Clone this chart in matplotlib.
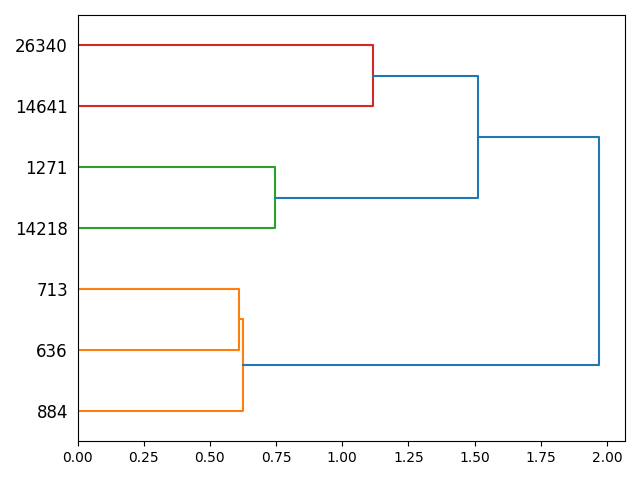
import matplotlib
matplotlib.use("Agg")
import matplotlib.pyplot as plt

# leaves, bottom to top
leaves = ["884", "636", "713", "14218", "1271", "14641", "26340"]

# links: (left node, right node, merge height, colour)
# nodes 0..6 are leaves, 7.. are the merged clusters in order
links = [
    (1, 2, 0.609, "C1"),   # 7: 636 + 713
    (0, 7, 0.624, "C1"),   # 8: 884 + (636,713)
    (3, 4, 0.745, "C2"),   # 9: 14218 + 1271
    (5, 6, 1.115, "C3"),   # 10: 14641 + 26340
    (9, 10, 1.512, "C0"),  # 11
    (8, 11, 1.970, "C0"),  # 12
]

pos = {i: 5 + 10 * i for i in range(len(leaves))}
hgt = {i: 0.0 for i in range(len(leaves))}

fig, ax = plt.subplots(figsize=(6.4, 4.8))
for k, (a, b, h, c) in enumerate(links):
    node = len(leaves) + k
    ya, yb = pos[a], pos[b]
    ax.plot([hgt[a], h, h, hgt[b]], [ya, ya, yb, yb], color=c, lw=1.5)
    pos[node] = (ya + yb) / 2
    hgt[node] = h

ax.set_ylim(0, 10 * len(leaves))
ax.set_xlim(0, links[-1][2] * 1.05)
ax.set_yticks([pos[i] for i in range(len(leaves))])
ax.set_yticklabels(leaves, fontsize=12)
# hide the tick marks, keep the spacing
for line in ax.get_yticklines():
    line.set_visible(False)
plt.tight_layout()
plt.savefig("out.png", dpi=100)
